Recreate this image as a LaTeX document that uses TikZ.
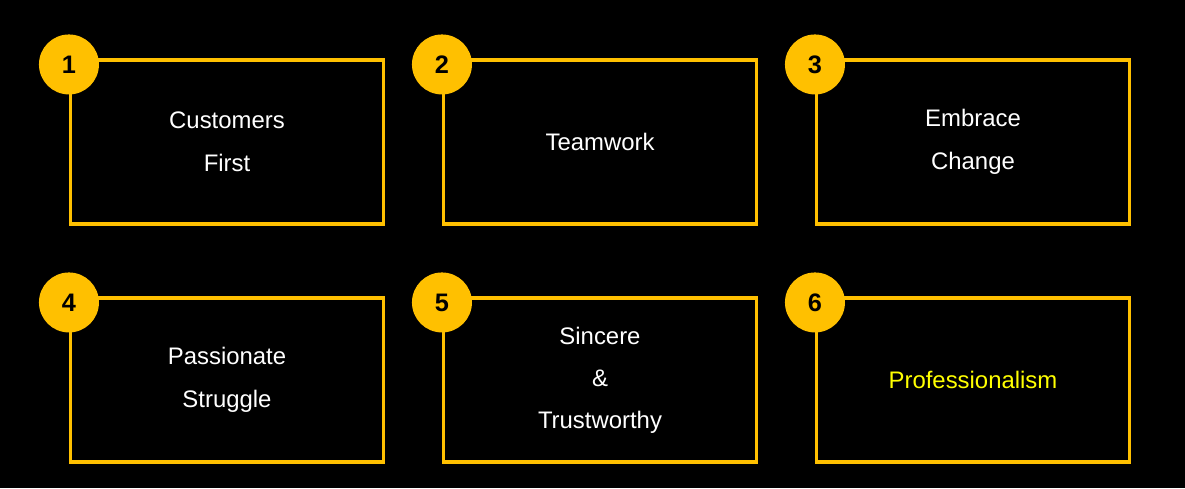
\documentclass[tikz,border=0pt]{standalone}
\usepackage{fontspec}
\setmainfont{Liberation Sans}
\usepackage{tikz}
\usetikzlibrary{calc}
\definecolor{gold}{HTML}{FFC000}
\definecolor{lemon}{HTML}{FFFF00}

\begin{document}
\begin{tikzpicture}[x=0.025cm,y=-0.025cm,
    box/.style={draw=gold, line width=2.2pt, minimum width=313*0.025cm, minimum height=164*0.025cm},
    badge/.style={circle, fill=gold, minimum size=60*0.025cm, inner sep=0pt, font=\fontsize{18}{18}\selectfont\bfseries},
    label/.style={text=white, align=center, font=\fontsize{17}{30.5}\selectfont}]
    % Background
    \fill[black] (0,0) rectangle (1185,488);
    \useasboundingbox (0,0) rectangle (1185,488);

    % Boxes
    \node[box] (B1) at (227,142) {};
    \node[box] (B2) at (600,142) {};
    \node[box] (B3) at (973,142) {};
    \node[box] (B4) at (227,380) {};
    \node[box] (B5) at (600,380) {};
    \node[box] (B6) at (973,380) {};

    % Texts
    \node[label] (T1) at (B1) {Customers\\First};
    \node[label] (T2) at (B2) {Teamwork};
    \node[label] (T3) at (B3) {Embrace\\Change};
    \node[label] (T4) at (B4) {Passionate\\Struggle};
    \node[label,font=\fontsize{17}{30}\selectfont] (T5) at (B5) {Sincere\\\&\\Trustworthy};
    \node[label,text=lemon] (T6) at (B6) {Professionalism};

    % Badges
    \foreach \b/\n in {B1/1,B2/2,B3/3,B4/4,B5/5,B6/6}
        \node[badge] (N\n) at ($(\b.north west)+(0,6)$) {\n};
\end{tikzpicture}
\end{document}
